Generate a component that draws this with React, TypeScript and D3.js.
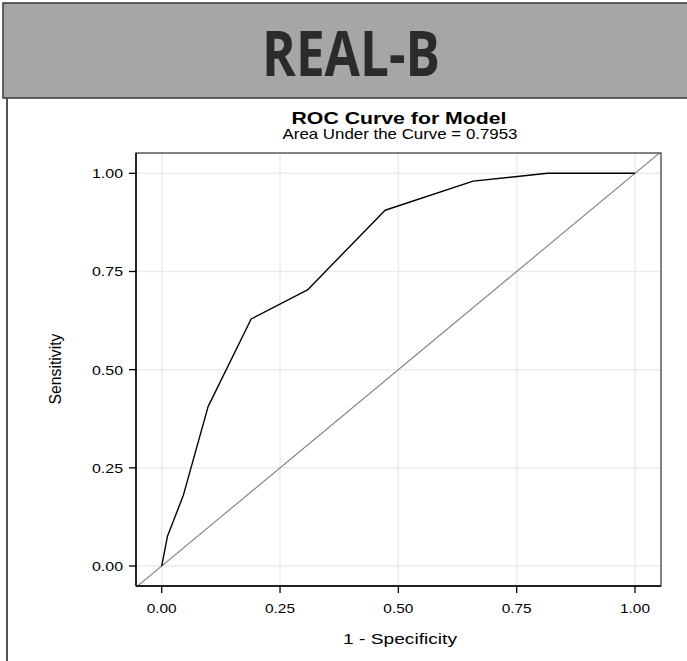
import React from "react";
import * as d3 from "d3";

const fpr = [0, 0.012, 0.046, 0.098, 0.189, 0.308, 0.472, 0.658, 0.815, 1];
const tpr = [0, 0.075, 0.181, 0.406, 0.629, 0.703, 0.906, 0.98, 1, 1];
const xTicks = [0, 0.25, 0.5, 0.75, 1];
const yTicks = [0, 0.25, 0.5, 0.75, 1];
const headerTitle = "REAL-B";
const chartTitle = "ROC Curve for Model";
const chartSubtitle = "Area Under the Curve = 0.7953";
const xLabel = "1 - Specificity";
const yLabel = "Sensitivity";

const W = 687;
const H = 661;
const P = { left: 136, right: 661, top: 153, bottom: 586 };
const FONT = "'Liberation Sans', Arial, Helvetica, sans-serif";

export default function App() {
  const x = d3.scaleLinear().domain([-0.0543, 1.0549]).range([P.left, P.right]);
  const y = d3.scaleLinear().domain([-0.0509, 1.0517]).range([P.bottom, P.top]);
  const pts = fpr.map((f, i) => [f, tpr[i]] as [number, number]);
  const line = d3
    .line<[number, number]>()
    .x((d) => x(d[0]))
    .y((d) => y(d[1]));
  const diag: [number, number][] = [
    [-0.1, -0.1],
    [1.1, 1.1],
  ];
  const fmt = d3.format(".2f");

  return (
    <svg
      width={W}
      height={H}
      style={{ position: "absolute", left: 0, top: 0, background: "#fff" }}
    >
      <defs>
        <clipPath id="panel">
          <rect x={P.left} y={P.top} width={P.right - P.left} height={P.bottom - P.top} />
        </clipPath>
      </defs>
      <rect x={0} y={0} width={W} height={H} fill="#fff" />
      {/* header */}
      <rect x={3} y={3} width={W + 20} height={95} fill="#a6a6a6" stroke="#404040" strokeWidth={1.6} />
      <text
        x={351}
        y={76}
        textAnchor="middle"
        fontFamily="'Open Sans', 'Noto Sans', sans-serif"
        fontWeight={700}
        fontSize={63}
        fill="#2b2b2b"
        textLength={178}
        lengthAdjust="spacingAndGlyphs"
      >
        {headerTitle}
      </text>
      <line x1={7} x2={7} y1={98} y2={H} stroke="#404040" strokeWidth={1.8} />

      {/* titles */}
      <text
        x={399}
        y={124}
        textAnchor="middle"
        fontFamily={FONT}
        fontWeight={700}
        fontSize={16.5}
        fill="#000"
        textLength={215}
        lengthAdjust="spacingAndGlyphs"
      >
        {chartTitle}
      </text>
      <text
        x={400}
        y={139}
        textAnchor="middle"
        fontFamily={FONT}
        fontSize={14.5}
        fill="#000"
        textLength={235}
        lengthAdjust="spacingAndGlyphs"
      >
        {chartSubtitle}
      </text>

      {/* grid */}
      <g clipPath="url(#panel)">
        {xTicks.map((t) => (
          <line key={"gx" + t} x1={x(t)} x2={x(t)} y1={P.top} y2={P.bottom} stroke="#ebebeb" strokeWidth={1.5} />
        ))}
        {yTicks.map((t) => (
          <line key={"gy" + t} x1={P.left} x2={P.right} y1={y(t)} y2={y(t)} stroke="#ebebeb" strokeWidth={1.5} />
        ))}
        <path d={line(diag) || ""} fill="none" stroke="#808080" strokeWidth={1.1} />
        <path d={line(pts) || ""} fill="none" stroke="#000" strokeWidth={1.4} strokeLinejoin="round" />
      </g>

      {/* panel border */}
      <rect
        x={P.left}
        y={P.top}
        width={P.right - P.left}
        height={P.bottom - P.top}
        fill="none"
        stroke="#333"
        strokeWidth={1.2}
      />
      <line x1={P.left} x2={P.left} y1={P.top} y2={P.bottom} stroke="#000" strokeWidth={1.4} />
      <line x1={P.left} x2={P.right} y1={P.bottom} y2={P.bottom} stroke="#000" strokeWidth={1.4} />

      {/* x axis */}
      {xTicks.map((t) => (
        <g key={"xt" + t}>
          <line x1={x(t)} x2={x(t)} y1={P.bottom} y2={P.bottom + 7} stroke="#000" strokeWidth={1.3} />
          <text
            x={x(t)}
            y={613}
            textAnchor="middle"
            fontFamily={FONT}
            fontSize={13.5}
            fill="#000"
            textLength={30}
            lengthAdjust="spacingAndGlyphs"
          >
            {fmt(t)}
          </text>
        </g>
      ))}
      <text
        x={400}
        y={644}
        textAnchor="middle"
        fontFamily={FONT}
        fontSize={14.5}
        fill="#000"
        textLength={114}
        lengthAdjust="spacingAndGlyphs"
      >
        {xLabel}
      </text>

      {/* y axis */}
      {yTicks.map((t) => (
        <g key={"yt" + t}>
          <line x1={P.left - 7} x2={P.left} y1={y(t)} y2={y(t)} stroke="#000" strokeWidth={1.3} />
          <text
            x={123}
            y={y(t) + 5}
            textAnchor="end"
            fontFamily={FONT}
            fontSize={13.5}
            fill="#000"
            textLength={31}
            lengthAdjust="spacingAndGlyphs"
          >
            {fmt(t)}
          </text>
        </g>
      ))}
      <text
        transform={`translate(61,369) rotate(-90) scale(1,1.2)`}
        textAnchor="middle"
        fontFamily={FONT}
        fontSize={13.5}
        fill="#000"
        textLength={71}
        lengthAdjust="spacingAndGlyphs"
      >
        {yLabel}
      </text>
    </svg>
  );
}
